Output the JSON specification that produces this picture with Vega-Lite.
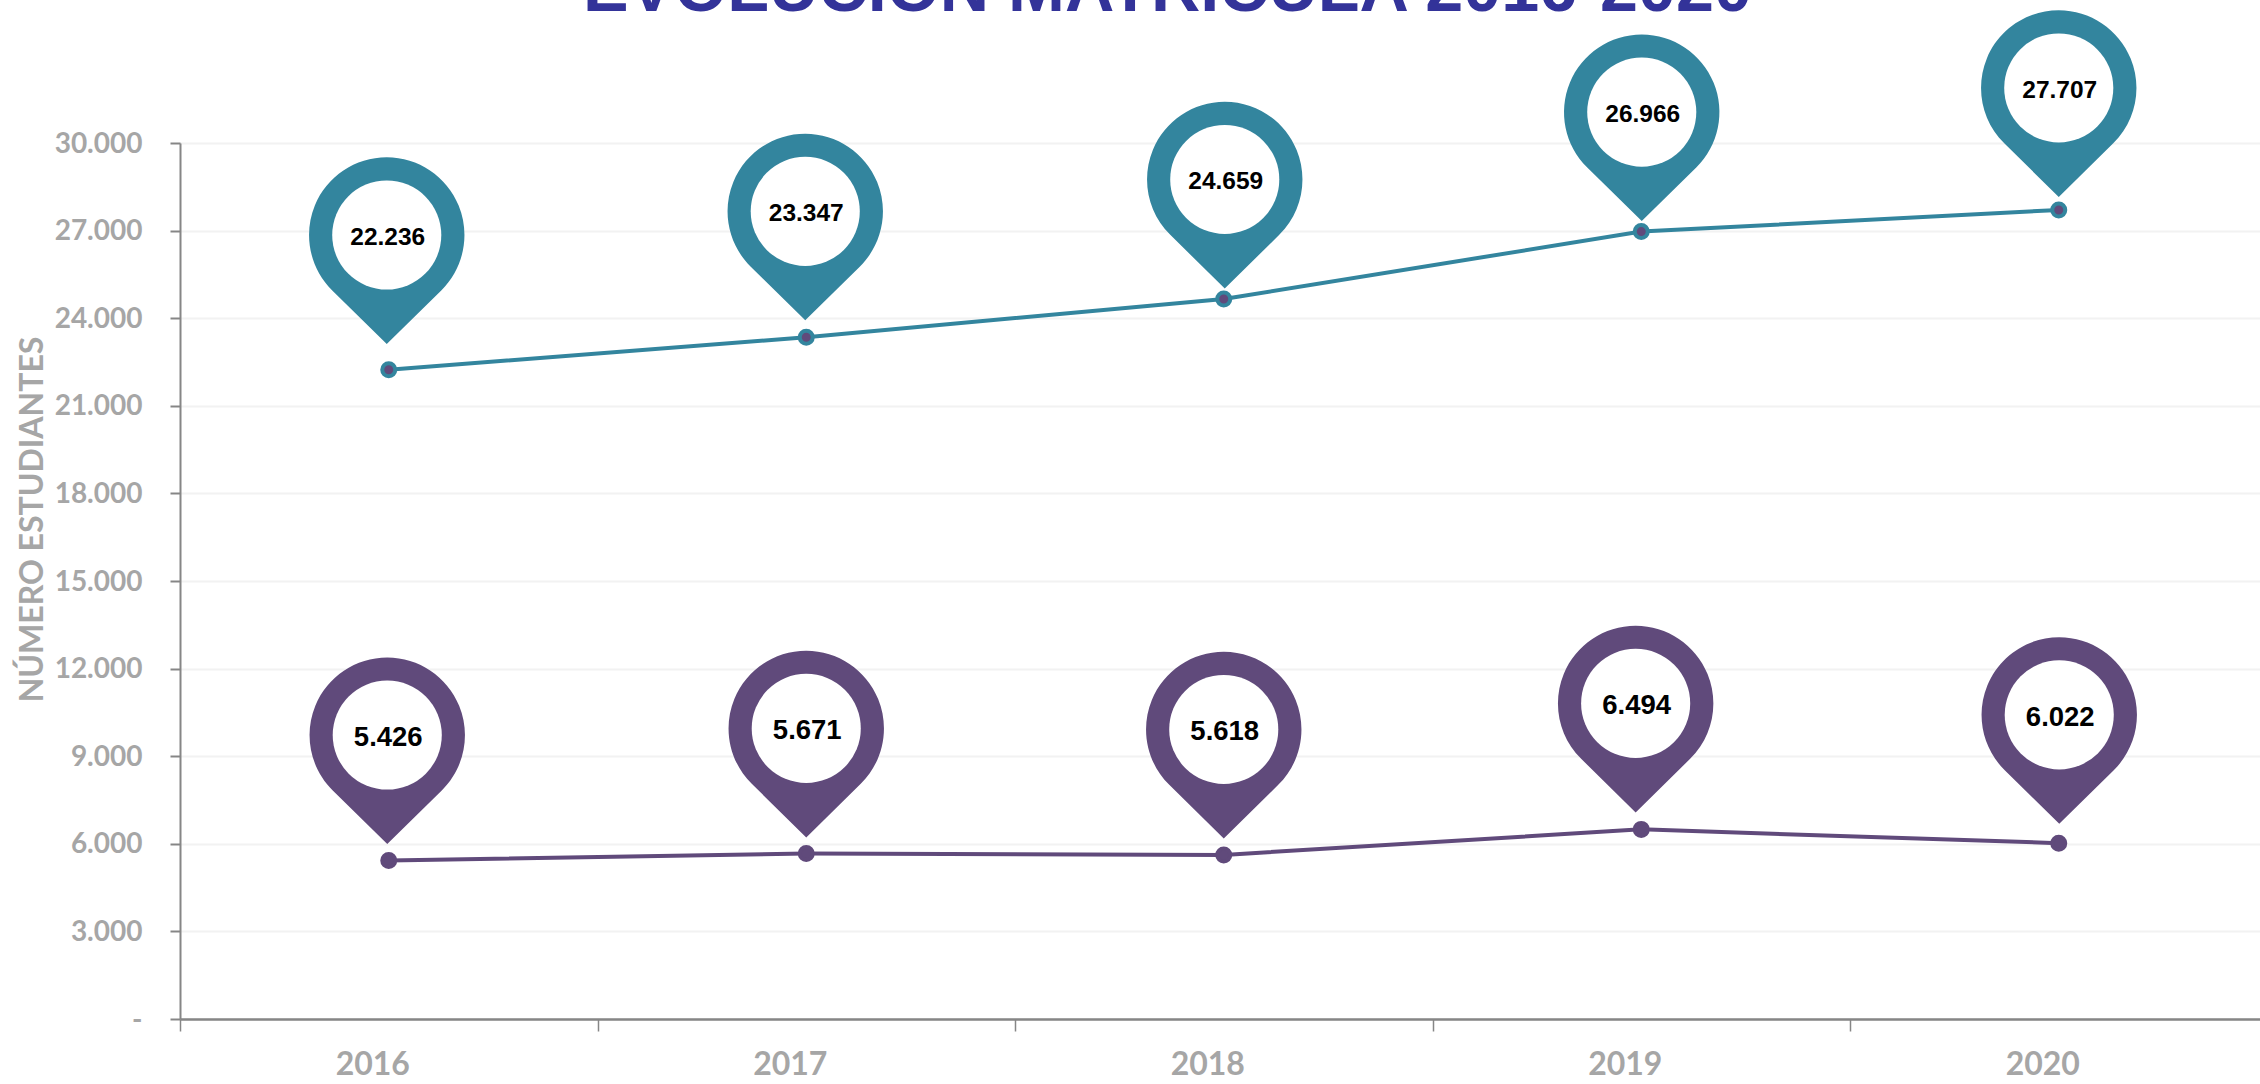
{"$schema":"https://vega.github.io/schema/vega-lite/v6.json","width":2080,"height":876,"autosize":"none","padding":{"left":180,"top":143,"right":0,"bottom":65},"background":"white","params":[{"name":"ox","value":{"s2016":-2,"s2017":-1,"s2018":1,"s2019":0.5,"s2020":0,"i2016":-1.5,"i2017":0,"i2018":0,"i2019":-5.6,"i2020":0.5}},{"name":"oy","value":{"s2016":-134.7,"s2017":-125.9,"s2018":-119.5,"s2019":-119.5,"s2020":-122,"i2016":-125.5,"i2017":-125,"i2018":-125.5,"i2019":-126,"i2020":-128.3}}],"title":{"text":"EVOLUCIÓN MATRÍCULA 2016-2020","font":"Liberation Sans","fontWeight":"bold","fontSize":68.3,"color":"#333399","anchor":"middle","frame":"group","dx":-52.5,"offset":0,"dy":69.5,"baseline":"alphabetic"},"datasets":{"d":[{"anio":"2016","serie":"superior","valor":22236,"etiqueta":"22.236","pin":"s2016"},{"anio":"2017","serie":"superior","valor":23347,"etiqueta":"23.347","pin":"s2017"},{"anio":"2018","serie":"superior","valor":24659,"etiqueta":"24.659","pin":"s2018"},{"anio":"2019","serie":"superior","valor":26966,"etiqueta":"26.966","pin":"s2019"},{"anio":"2020","serie":"superior","valor":27707,"etiqueta":"27.707","pin":"s2020"},{"anio":"2016","serie":"inferior","valor":5426,"etiqueta":"5.426","pin":"i2016"},{"anio":"2017","serie":"inferior","valor":5671,"etiqueta":"5.671","pin":"i2017"},{"anio":"2018","serie":"inferior","valor":5618,"etiqueta":"5.618","pin":"i2018"},{"anio":"2019","serie":"inferior","valor":6494,"etiqueta":"6.494","pin":"i2019"},{"anio":"2020","serie":"inferior","valor":6022,"etiqueta":"6.022","pin":"i2020"}]},"data":{"name":"d"},"encoding":{"x":{"field":"anio","type":"ordinal","scale":{"type":"band","range":[0,2087.5],"paddingInner":0,"paddingOuter":0},"axis":{"title":null,"labelAngle":0,"labelFont":"Lato","labelFontWeight":"bold","labelFontSize":32,"labelColor":"#A6A6A6","labelOffset":-16.5,"labelPadding":18,"tickBand":"extent","tickSize":12,"tickWidth":1.5,"tickColor":"#868686","domainColor":"#868686","domainWidth":2.5,"grid":false}},"y":{"field":"valor","type":"quantitative","scale":{"domain":[0,30000],"nice":false},"axis":{"title":"NÚMERO ESTUDIANTES","titleFont":"Lato","titleFontWeight":"bold","titleFontSize":32,"titleColor":"#A6A6A6","titleX":-148,"titleY":376,"titleAngle":-90,"titleAlign":"center","titleBaseline":"middle","values":[0,3000,6000,9000,12000,15000,18000,21000,24000,27000,30000],"labelExpr":"datum.value==0?'-':replace(format(datum.value,','),',','.')","labelFont":"Lato","labelFontWeight":"bold","labelFontSize":28,"labelColor":"#A6A6A6","labelPadding":28,"labelOffset":1,"tickSize":10,"tickWidth":2,"tickColor":"#868686","domainColor":"#868686","domainWidth":2,"grid":true,"gridColor":"#F2F2F2","gridWidth":2}}},"layer":[{"mark":{"type":"line","strokeWidth":4},"encoding":{"color":{"field":"serie","type":"nominal","scale":{"domain":["superior","inferior"],"range":["#33859E","#604A7B"]},"legend":null}}},{"mark":{"type":"point","filled":true,"fill":"#604A7B","opacity":1,"strokeWidth":4,"size":169},"encoding":{"stroke":{"field":"serie","type":"nominal","scale":{"domain":["superior","inferior"],"range":["#33859E","#604A7B"]},"legend":null}}},{"mark":{"type":"point","filled":true,"opacity":1,"strokeWidth":0,"size":40000,"shape":"M-0.545,0.554 A0.777,0.777 0 1 1 0.545,0.554 L0,1.09 Z","xOffset":{"expr":"ox[datum.pin]"},"yOffset":{"expr":"oy[datum.pin]"}},"encoding":{"color":{"field":"serie","type":"nominal","scale":{"domain":["superior","inferior"],"range":["#33859E","#604A7B"]},"legend":null}}},{"mark":{"type":"point","filled":true,"shape":"circle","fill":"white","opacity":1,"strokeWidth":0,"size":11900,"xOffset":{"expr":"ox[datum.pin]"},"yOffset":{"expr":"oy[datum.pin]"}}},{"mark":{"type":"text","font":"Liberation Sans","fontWeight":"bold","color":"black","baseline":"middle","align":"center","dx":1,"dy":3,"xOffset":{"expr":"ox[datum.pin]"},"yOffset":{"expr":"oy[datum.pin]"}},"encoding":{"text":{"field":"etiqueta","type":"nominal"},"size":{"condition":{"test":"datum.serie==='superior'","value":24.5},"value":27.5}}}]}
